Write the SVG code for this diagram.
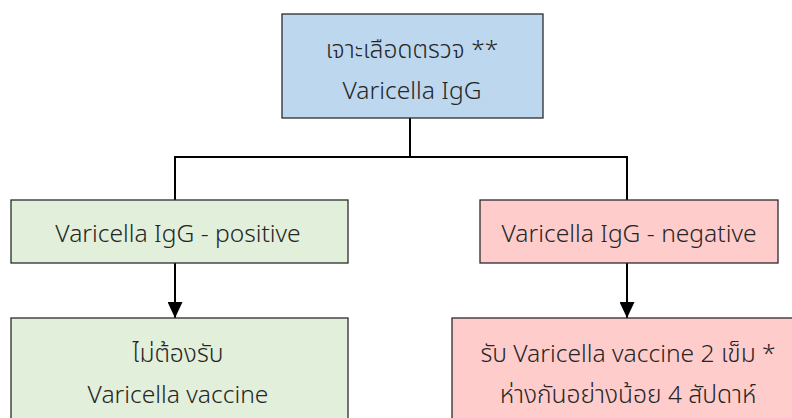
<svg xmlns="http://www.w3.org/2000/svg" width="792" height="418" viewBox="0 0 792 418">
<style>
.box{stroke:#2b2b2b;stroke-width:1.3}
.blue{fill:#BDD7EE}
.green{fill:#E2EFDA}
.pink{fill:#FFCCCC}
text{font-family:"Noto Sans Thai","Noto Sans","DejaVu Sans",sans-serif;font-size:24.6px;font-weight:300;fill:#262626;text-anchor:middle}
.conn{stroke:#000;stroke-width:2;fill:none}
</style>
<defs>
<marker id="arr" markerWidth="16" markerHeight="15" refX="16" refY="7.5" orient="auto" markerUnits="userSpaceOnUse">
<path d="M0,0 L16,7.5 L0,15 Z" fill="#000"/>
</marker>
</defs>
<g id="connectors">
<path class="conn" d="M410,118 V157 M175,157 H627 M175,156 V200 M627,156 V200"/>
<path class="conn" d="M175,263 V318" marker-end="url(#arr)"/>
<path class="conn" d="M627,263 V318" marker-end="url(#arr)"/>
</g>
<g id="top">
<rect class="box blue" x="282" y="14" width="261" height="104"/>
<text x="412" y="58">เจาะเลือดตรวจ **</text>
<text x="412" y="99">Varicella IgG</text>
</g>
<g id="positive">
<rect class="box green" x="11" y="200" width="337" height="63"/>
<text x="178" y="242">Varicella IgG - positive</text>
</g>
<g id="negative">
<rect class="box pink" x="480" y="200" width="298" height="63"/>
<text x="629" y="242">Varicella IgG - negative</text>
</g>
<g id="novaccine">
<rect class="box green" x="11" y="318" width="337" height="110"/>
<text x="178" y="362">ไม่ต้องรับ</text>
<text x="178" y="403">Varicella vaccine</text>
</g>
<g id="vaccine">
<rect class="box pink" x="452" y="318" width="350" height="110"/>
<text x="628" y="362">รับ Varicella vaccine 2 เข็ม *</text>
<text x="628" y="403">ห่างกันอย่างน้อย 4 สัปดาห์</text>
</g>
</svg>
